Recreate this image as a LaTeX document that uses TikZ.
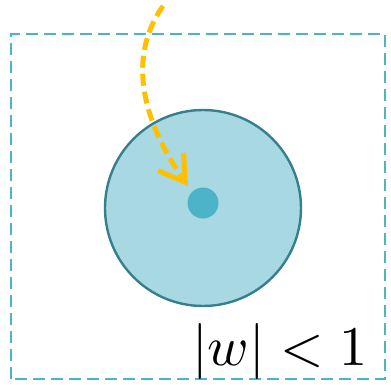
\documentclass[tikz,border=0pt]{standalone}
\usetikzlibrary{arrows.meta}
\definecolor{rectc}{HTML}{4BB5C8}
\definecolor{discfill}{HTML}{A8D8E2}
\definecolor{discline}{HTML}{367F8C}
\definecolor{dotc}{HTML}{4DB3C8}
\definecolor{arrc}{HTML}{FFC000}
\tikzset{
  region/.style={draw=rectc, line width=2.4pt, dash pattern=on 12pt off 6pt},
  disc/.style={circle, draw=discline, fill=discfill, line width=2.4pt, inner sep=0pt, minimum size=196pt},
  centerdot/.style={circle, fill=dotc, inner sep=0pt, minimum size=31pt},
  flow/.style={draw=arrc, line width=5pt, dash pattern=on 12pt off 6pt, -{Straight Barb[length=25pt,width=31pt,line width=5pt]}},
  lab/.style={inner sep=0pt, anchor=base west, scale=5.6, transform shape}
}
\begin{document}
\begin{tikzpicture}[x=1pt,y=1pt]
\useasboundingbox (0,0) rectangle (391,384);
\draw[region] (11,5) rectangle (385,350);
\node[disc] (d) at (203,176) {};
\node[centerdot] (c) at (203,181) {};
\coordinate (s) at (163,378);
\coordinate (t) at (188,198);
\draw[flow] (s) .. controls (125,324) and (145,259) .. (t);
\node[lab] (l) at (191,19) {$|w|<1$};
\end{tikzpicture}
\end{document}
